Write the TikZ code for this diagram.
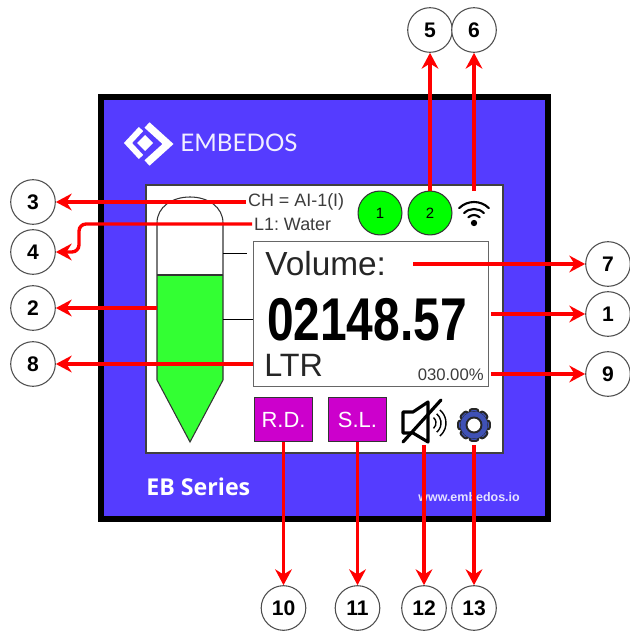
\documentclass[tikz,border=0pt]{standalone}
\usepackage{fontspec}
\setmainfont{Liberation Sans}
\newfontfamily\logofont{Lato}
\newfontfamily\seriesfont{Open Sans}
\usetikzlibrary{arrows.meta}
\definecolor{panelblue}{RGB}{85,60,255}
\definecolor{levelgreen}{RGB}{51,255,51}
\definecolor{ledgreen}{RGB}{0,255,0}
\definecolor{keypurple}{RGB}{204,0,204}
\definecolor{gearblue}{RGB}{63,81,181}
\definecolor{labelgray}{RGB}{60,60,60}

\begin{document}
\frenchspacing
\begin{tikzpicture}[
    x=0.02cm, y=-0.02cm,
    callout/.style={draw=red, line width=1.9pt, -{Stealth[length=9pt, width=9.5pt]}},
    numberdot/.style={circle, draw=black!70, fill=white, line width=0.6pt, minimum size=25.4pt, inner sep=0pt, font=\bfseries\fontsize{12}{14}\selectfont},
    led/.style={circle, draw=black!80, fill=ledgreen, line width=0.6pt, minimum size=25pt, inner sep=0pt, font=\fontsize{8.5}{10}\selectfont},
    softkey/.style={draw=black!80, fill=keypurple, line width=0.6pt, minimum width=33.5pt, minimum height=25.5pt, inner sep=0pt, text=white, font=\fontsize{12.5}{14}\selectfont},
    graylabel/.style={inner sep=1pt, text=labelgray, font=\fontsize{10.2}{12}\selectfont},
    screentext/.style={inner sep=0pt, text=black!85, font=\fontsize{18.4}{20}\selectfont},
    iconline/.style={draw=black, line width=1.8pt},
]
\useasboundingbox (0,0) rectangle (629,631);

% =============================================================================
% Housing and screen
% =============================================================================
\draw[draw=black, fill=panelblue, line width=3.4pt] (101,97) rectangle (548,519);
\draw[draw=black!75, fill=white, line width=1.1pt] (146,185) rectangle (503,453);

% --- Logo ---
\begin{scope}[white]
    \draw[line width=4.2pt] (147,125) -- (168,144) -- (147,163);
    \draw[line width=3.4pt] (141,129) -- (128,143) -- (141,157);
    \fill (145,135) -- (153,143) -- (145,151) -- (137,143) -- cycle;
\end{scope}
\node[anchor=west, inner sep=0pt, text=white!92!panelblue, font=\logofont\fontsize{13.8}{16}\selectfont] (brand) at (180,143) {EMBEDOS};
\node[anchor=west, inner sep=0pt, text=white, font=\seriesfont\bfseries\fontsize{13.2}{15}\selectfont] (series) at (146,487) {EB Series};
\node[anchor=west, inner sep=0pt, text=white!85!panelblue, font=\bfseries\fontsize{7.1}{9}\selectfont] (website) at (418,497) {www.embedos.io};

% =============================================================================
% Tank
% =============================================================================
\fill[levelgreen] (157,275) -- (223,275) -- (223,380) -- (190,442) -- (157,380) -- cycle;
\draw[draw=black!80, line width=0.6pt] (157,275) -- (223,275);
\draw[draw=black!80, line width=0.6pt]
    (157,380) -- (157,223) .. controls (157,207) and (172,197) .. (190,197)
    .. controls (208,197) and (223,207) .. (223,223) -- (223,380) -- (190,442) -- cycle;
\draw[black, line width=0.5pt] (223,253) -- (247,253);
\draw[black, line width=0.5pt] (223,319) -- (253,319);
\coordinate (tankside) at (157,308);

% =============================================================================
% Display
% =============================================================================
\node[draw=black!60, fill=white, line width=0.8pt, minimum width=134pt, minimum height=82.5pt, inner sep=0pt] (display) at (371,314) {};
\node[screentext, anchor=west, font=\fontsize{19}{21}\selectfont] (volume) at (265,264) {Volume:};
\node[inner sep=0pt, anchor=center] (reading) at (367,319.5) {\resizebox{113.8pt}{24pt}{\bfseries\fontsize{34}{36}\selectfont 02148.57}};
\node[screentext, anchor=west] (unit) at (264,365) {LTR};
\node[anchor=east, inner sep=0pt, text=labelgray, font=\fontsize{9.5}{11}\selectfont] (percent) at (484,375) {030.00\%};
\node[graylabel, anchor=west] (channel) at (246,202) {CH = AI-1(I)};
\node[graylabel, anchor=west] (liquid) at (252,224) {L1: Water};
\coordinate (volumemark) at (413,264);
\coordinate (displayedge) at (491,314);
\coordinate (percentedge) at (491,374);
\coordinate (unitedge) at (253,364);

% =============================================================================
% Status row
% =============================================================================
\node[led] (ledone) at (380,213) {1};
\node[led] (ledtwo) at (430,213) {2};

% --- Wifi ---
\fill (474,223) circle (3pt*0.6);
\foreach \r in {8,14,21} {
    \draw[black, line width=1.2pt, line cap=round] (474,223) ++(45:\r*0.02cm) arc[start angle=45, end angle=135, radius=\r*0.02cm];
}
\coordinate (wifitop) at (474,191);

% =============================================================================
% Bottom row
% =============================================================================
\node[softkey] (rdkey) at (283.5,419.5) {R.D.};
\node[softkey] (slkey) at (357.5,419.5) {S.L.};

% --- Speaker ---
\draw[iconline, line join=round] (403,412) -- (413,412) -- (428,402) -- (428,442) -- (413,433) -- (403,433) -- cycle;
\draw[iconline, line cap=round] (403,442) -- (441,400);
\foreach \r in {7,12,17} {
    \draw[black, line width=0.8pt] (429,423) ++(-50:\r*0.02cm) arc[start angle=-50, end angle=50, radius=\r*0.02cm];
}
\coordinate (speakerfoot) at (424,445);

% --- Gear ---
\foreach \a in {0,45,...,315} {
    \draw[draw=black!85, fill=gearblue, line width=1.1pt, rounded corners=1.5pt, rotate around={\a:(474,425)}] (469.5,409) rectangle (478.5,418);
}
\draw[draw=black!85, fill=gearblue, line width=1.1pt] (474,425) circle (13*0.02cm);
\fill[gearblue] (474,425) circle (13.5*0.02cm);
\draw[draw=black!85, fill=white, line width=1.1pt] (474,425) circle (7.5*0.02cm);
\coordinate (gearfoot) at (474,445);

% =============================================================================
% Numbered callouts
% =============================================================================
\node[numberdot] (numone) at (608,314) {1};
\node[numberdot] (numtwo) at (33,308) {2};
\node[numberdot] (numthree) at (33,202) {3};
\node[numberdot] (numfour) at (33,252) {4};
\node[numberdot] (numfive) at (430,30) {5};
\node[numberdot] (numsix) at (474,30) {6};
\node[numberdot] (numseven) at (608,264) {7};
\node[numberdot] (numeight) at (33,364) {8};
\node[numberdot] (numnine) at (608,374) {9};
\node[numberdot] (numten) at (283.5,608) {10};
\node[numberdot] (numeleven) at (357.5,608) {11};
\node[numberdot] (numtwelve) at (424,608) {12};
\node[numberdot] (numthirteen) at (474,608) {13};

\coordinate (bendfour) at (79,252);
\draw[callout] (displayedge) -- (numone);
\draw[callout] (tankside) -- (numtwo);
\draw[callout] (channel) -- (numthree);
\draw[callout, rounded corners=4pt] (liquid) -| (bendfour) -- (numfour);
\draw[callout] (ledtwo) -- (numfive);
\draw[callout] (wifitop) -- (numsix);
\draw[callout] (volumemark) -- (numseven);
\draw[callout] (unitedge) -- (numeight);
\draw[callout] (percentedge) -- (numnine);
\draw[callout] (rdkey) -- (numten);
\draw[callout] (slkey) -- (numeleven);
\draw[callout] (speakerfoot) -- (numtwelve);
\draw[callout] (gearfoot) -- (numthirteen);

\end{tikzpicture}
\end{document}
